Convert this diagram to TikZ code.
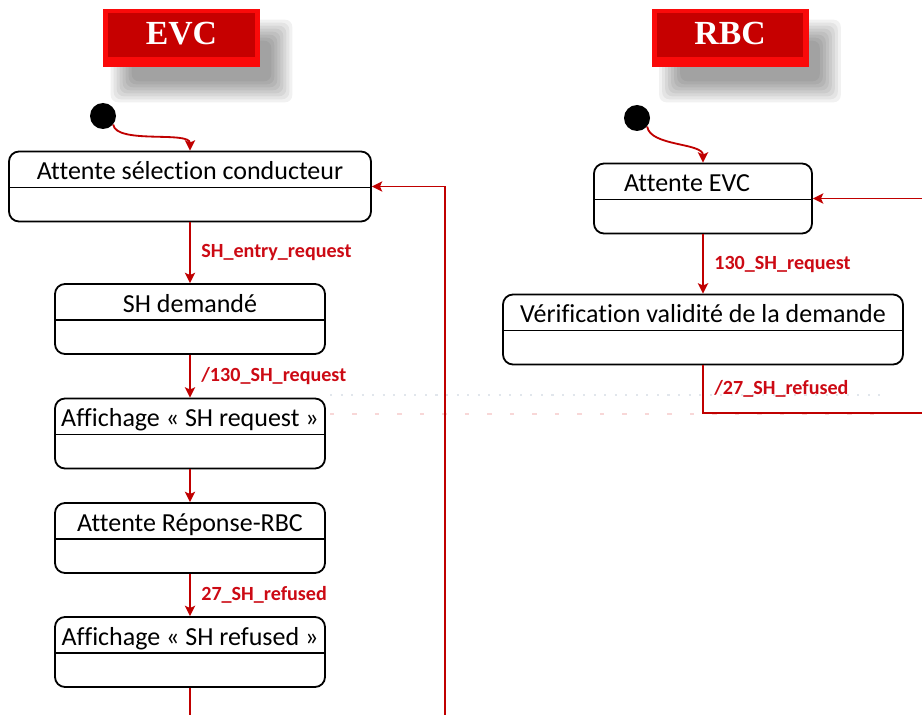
\documentclass[tikz,border=0pt]{standalone}
\usepackage{fontspec}
\setmainfont{Carlito}[Ligatures=NoCommon]
\newfontfamily\hdrfont{Liberation Serif}
\usepackage{tikz}
\usetikzlibrary{arrows.meta,positioning,backgrounds}
\definecolor{LineRed}{RGB}{192,0,0}
\definecolor{LabelRed}{RGB}{204,10,20}
\definecolor{HdrLight}{RGB}{250,10,10}
\definecolor{HdrDark}{RGB}{198,0,0}
\definecolor{FaintGray}{RGB}{225,230,236}
\definecolor{FaintPink}{RGB}{248,215,215}

\begin{document}
\begin{tikzpicture}[x=0.25mm, y=-0.25mm,
 header/.style={fill=HdrLight, minimum width=39.25mm, minimum height=14.5mm, inner ysep=0pt, text height=8.8mm, text depth=5.7mm, text=white, font=\hdrfont\bfseries\fontsize{24}{26}\selectfont,
  path picture={\fill[HdrDark] ([shift={(1.3mm,-1mm)}]path picture bounding box.north west) rectangle ([shift={(-1.3mm,2.6mm)}]path picture bounding box.south east);}},
 state/.style={draw, line width=1.3pt, rounded corners=2.5mm, fill=white, inner xsep=1mm, inner ysep=0pt, minimum height=17.5mm, text height=7mm, text depth=10.5mm, font=\fontsize{18.5}{20}\selectfont,
  path picture={\draw[line width=0.8pt] ([yshift=-9mm]path picture bounding box.north west) -- ([yshift=-9mm]path picture bounding box.north east);}},
 init/.style={circle, fill=black, minimum size=6.5mm, inner sep=0pt},
 trans/.style={-{Stealth[length=2.6mm,width=2.6mm,inset=0.6mm]}, LineRed, line width=1.3pt},
 wire/.style={LineRed, line width=1.3pt},
 lbl/.style={anchor=west, inner sep=0pt, xshift=2.6mm, text=LabelRed, font=\bfseries\fontsize{14.3}{16}\selectfont}
]
\useasboundingbox (0,0) rectangle (922,715);
\draw[FaintGray, line width=1pt, dash pattern=on 1.5pt off 6pt] (330,395) -- (880,395);
\draw[FaintPink, line width=1pt, dash pattern=on 3pt off 13pt] (330,414) -- (880,414);

\node[header] (evc) at (181.5,38) {EVC};
\node[header] (rbc) at (730,38) {RBC};
\begin{scope}[on background layer]
\foreach \hd in {evc,rbc}
 \foreach \k in {0,...,7}
  \fill[black, opacity=0.055, rounded corners=5pt] ([shift={({8+3*\k},{11+3*\k})}]\hd.north west) rectangle ([shift={({32-3*\k},{35-3*\k})}]\hd.south east);
\end{scope}

\node[init] (init1) at (103,116) {};
\node[state, minimum width=90.5mm] (s1) at (190,186.5) {Attente sélection conducteur};
\node[state, minimum width=67.5mm] (s2) at (190,319) {SH demandé};
\node[state, minimum width=67.5mm] (s3) at (190,433.5) {Affichage « SH request »};
\node[state, minimum width=67.5mm] (s4) at (190,538) {Attente Réponse-RBC};
\node[state, minimum width=67.5mm] (s5) at (190,652) {Affichage « SH refused »};
\coordinate (s5foot) at (190,715);
\coordinate (loopfoot) at (445,715);

\node[init] (init2) at (637,118) {};
\node[state, minimum width=54.5mm] (r1) at (703,198.5) {Attente EVC\hspace*{8mm}};
\node[state, minimum width=100mm] (r2) at (703,329.5) {Vérification validité de la demande};
\coordinate (rin) at (922,198.5);
\coordinate (rout) at (922,413);

\draw[trans] (init1.-40) .. controls +(3,20) and +(0,-20) .. (s1.north);
\draw[trans] (s1) -- (s2) node[lbl, midway] {SH\_entry\_request};
\draw[trans] (s2) -- (s3) node[lbl, midway] {/130\_SH\_request};
\draw[trans] (s3) -- (s4);
\draw[trans] (s4) -- (s5) node[lbl, midway] {27\_SH\_refused};
\draw[wire] (s5) -- (s5foot);
\draw[trans] (loopfoot) |- (s1);

\draw[trans] (init2.-40) .. controls +(3,20) and +(0,-20) .. (r1.north);
\draw[trans] (r1) -- (r2) node[lbl, midway] {130\_SH\_request};
\draw[wire] (r2) |- (rout) node[lbl, pos=0.25] {/27\_SH\_refused};
\draw[trans] (rin) -- (r1);
\end{tikzpicture}
\end{document}
